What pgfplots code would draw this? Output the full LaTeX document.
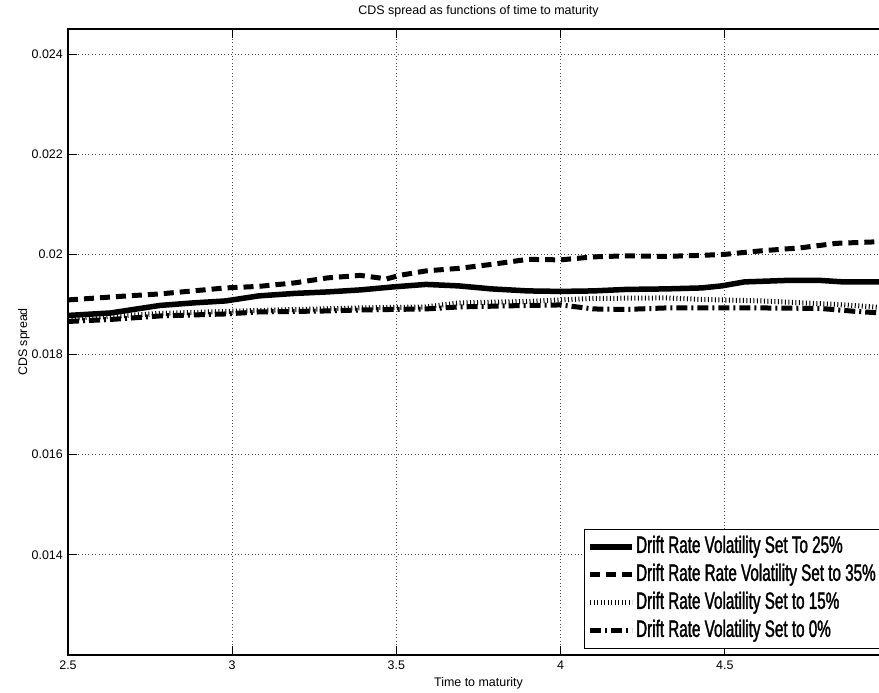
\documentclass[border=0pt]{standalone}
\usepackage{pgfplots}
\pgfplotsset{compat=1.18}
\usepackage{fontspec}
\setmainfont{Liberation Sans}
\newfontfamily\legfont[FakeStretch=0.645,FakeBold=1.5]{Liberation Sans}
\begin{document}
\begin{tikzpicture}
\useasboundingbox (-68bp,-38bp) rectangle (811bp,655bp);
\begin{axis}[
  at={(0,0)}, anchor=south west,
  width=821bp, height=626bp, scale only axis,
  xmin=2.5, xmax=5, ymin=0.012, ymax=0.0245,
  xtick={2.5,3,3.5,4,4.5}, xticklabels={2.5,3,3.5,4,4.5},
  ytick={0.014,0.016,0.018,0.02,0.022,0.024},
  yticklabels={0.014,0.016,0.018,0.02,0.022,0.024},
  scaled y ticks=false,
  tick align=inside, major tick length=9bp,
  tick style={black, line width=1bp},
  axis line style={black, line width=1.2bp},
  grid=major,
  major grid style={black!70, line width=0.8bp, dash pattern=on 0.8bp off 2.6bp},
  tick label style={font=\fontsize{12.5}{14}\selectfont},
  yticklabel style={inner sep=0pt, xshift=-5bp},
  xticklabel style={inner sep=0pt, yshift=-6bp},
  title={CDS spread as functions of time to maturity},
  title style={font=\fontsize{12.5}{14}\selectfont, at={(axis description cs:0.5,1.0185)}, anchor=center, yshift=0pt},
  xlabel={Time to maturity},
  xlabel style={font=\fontsize{12.5}{14}\selectfont, at={(axis description cs:0.5,-0.0447)}, anchor=center},
  ylabel={CDS spread},
  ylabel style={font=\fontsize{12.5}{14}\selectfont, at={(axis description cs:-0.0536,0.5)}, anchor=center},
  legend cell align=left,
  legend image code/.code={\draw[#1] (0bp,0bp) -- (42bp,0bp);},
  legend style={at={(axis description cs:0.6285,0.0096)}, anchor=south west,
    draw=black, line width=1.3bp, fill=white,
    font=\legfont\fontsize{23.7}{28}\selectfont,
    inner xsep=3bp, inner ysep=5.5bp, row sep=4bp,
    nodes={inner sep=1bp, text height=17bp, text depth=5bp}},
]
\addplot[black, line width=5.5bp] coordinates {
(2.5,0.01878) (2.63,0.01883) (2.71,0.01891) (2.78,0.01898) (2.88,0.01903)
(2.98,0.01907) (3.08,0.01917) (3.19,0.01922) (3.29,0.01925) (3.39,0.01929)
(3.49,0.01935) (3.59,0.01940) (3.69,0.01937) (3.79,0.01931) (3.90,0.01927)
(4.00,0.01926) (4.10,0.01927) (4.20,0.01930) (4.32,0.01931) (4.43,0.01933)
(4.49,0.01937) (4.56,0.01945) (4.69,0.01948) (4.79,0.01948) (4.86,0.01945)
(5.00,0.01945)};
\addlegendentry{Drift Rate Volatility Set To 25\%}
\addplot[black, line width=5bp, dash pattern=on 10bp off 6bp] coordinates {
(2.5,0.01909) (2.68,0.01917) (2.78,0.01921) (2.88,0.01927) (2.98,0.01933)
(3.08,0.01936) (3.19,0.01943) (3.29,0.01953) (3.39,0.01958) (3.47,0.01951)
(3.51,0.01958) (3.59,0.01967) (3.69,0.01972) (3.79,0.01980) (3.90,0.01990)
(4.00,0.01989) (4.10,0.01995) (4.20,0.01997) (4.32,0.01996) (4.43,0.01998)
(4.50,0.02000) (4.61,0.02007) (4.73,0.02013) (4.84,0.02022) (4.96,0.02025)
(5.00,0.02025)};
\addlegendentry{Drift Rate Rate Volatility Set to 35\%\hspace{8bp}}
\addplot[black, line width=5bp, dash pattern=on 1bp off 2.5bp] coordinates {
(2.5,0.01872) (2.63,0.01876) (2.78,0.01882) (3.08,0.01888) (3.39,0.01893)
(3.59,0.01895) (3.69,0.01903) (3.90,0.01906) (4.10,0.01912) (4.32,0.01913)
(4.43,0.01910) (4.61,0.01907) (4.84,0.01900) (5.00,0.01893)};
\addlegendentry{Drift Rate Volatility Set to 15\%}
\addplot[black, line width=5bp, dash pattern=on 11bp off 4bp on 2bp off 4bp] coordinates {
(2.5,0.01866) (2.63,0.01870) (2.78,0.01877) (2.98,0.01881) (3.08,0.01885)
(3.29,0.01887) (3.39,0.01889) (3.59,0.01891) (3.69,0.01895) (3.90,0.01898)
(4.00,0.01899) (4.10,0.01891) (4.20,0.01890) (4.32,0.01893) (4.61,0.01893)
(4.79,0.01892) (4.90,0.01886) (5.00,0.01882)};
\addlegendentry{Drift Rate Volatility Set to 0\%}
\end{axis}
\end{tikzpicture}
\end{document}
